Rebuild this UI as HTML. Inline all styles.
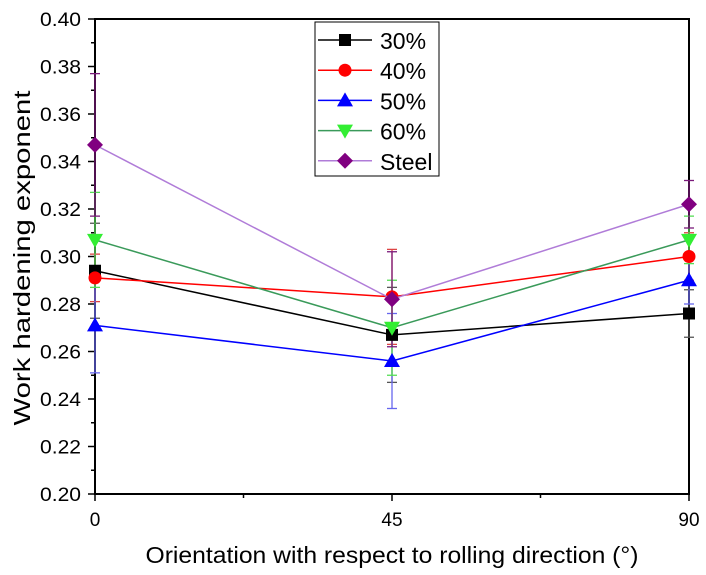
<!DOCTYPE html>
<html><head><meta charset="utf-8"><style>
body{margin:0;background:#fff}
svg{display:block;font-family:"Liberation Sans",Arial,sans-serif}
</style></head><body>
<svg id="s" width="706" height="575" viewBox="0 0 706 575" xmlns="http://www.w3.org/2000/svg">
<rect width="706" height="575" fill="#fff"/>
<g id="g"></g>
</svg>
<script>
const X=d=>95+d/90*594, Y=v=>19+(0.40-v)/0.2*475;
let h='';
h+=`<rect x="95" y="19" width="594" height="475" fill="none" stroke="#000" stroke-width="2"/>`;
for(let i=0;i<=20;i++){const v=0.20+i*0.01,y=Y(v);const maj=i%2==0;
h+=`<line x1="${maj?88:91}" x2="95" y1="${y}" y2="${y}" stroke="#000" stroke-width="1.5"/>`;
if(maj)h+=`<text x="81" y="${y+7}" font-size="19" text-anchor="end" textLength="41" lengthAdjust="spacingAndGlyphs">${v.toFixed(2)}</text>`;}
for(let i=0;i<=4;i++){const d=i*22.5,x=X(d);const maj=i%2==0;
h+=`<line x1="${x}" x2="${x}" y1="494" y2="${maj?501:498}" stroke="#000" stroke-width="1.5"/>`;
if(maj)h+=`<text x="${x}" y="526" font-size="19" text-anchor="middle">${d}</text>`;}
h+=`<text x="392" y="563" font-size="23" text-anchor="middle" textLength="493" lengthAdjust="spacingAndGlyphs">Orientation with respect to rolling direction (°)</text>`;
h+=`<text transform="translate(30,258) rotate(-90)" font-size="23" text-anchor="middle" textLength="335" lengthAdjust="spacingAndGlyphs">Work hardening exponent</text>`;
const S=[
{n:'30%',lc:'#000',mc:'#000',m:'sq',v:[.294,.267,.276],e:[.020,.020,.010]},
{n:'40%',lc:'#f00',mc:'#f00',m:'ci',v:[.291,.283,.300],e:[.010,.020,.010]},
{n:'50%',lc:'#00f',mc:'#00f',m:'up',v:[.271,.256,.290],e:[.020,.020,.010]},
{n:'60%',lc:'#3a9a5a',mc:'#33ee33',m:'dn',v:[.307,.270,.307],e:[.020,.020,.010]},
{n:'Steel',lc:'#b07cd8',mc:'#800080',m:'di',v:[.347,.282,.322],e:[.030,.020,.010]}];
const ec={'30%':'#555','40%':'#d44','50%':'#66e','60%':'#5d5','Steel':'#7a1a7a'};
function mk(t,x,y,c){
 if(t=='sq')return `<rect x="${x-6}" y="${y-6}" width="12" height="12" fill="${c}"/>`;
 if(t=='ci')return `<circle cx="${x}" cy="${y}" r="6.5" fill="${c}"/>`;
 if(t=='up')return `<polygon points="${x},${y-8} ${x+8},${y+6} ${x-8},${y+6}" fill="${c}"/>`;
 if(t=='dn')return `<polygon points="${x},${y+8} ${x+8},${y-6} ${x-8},${y-6}" fill="${c}"/>`;
 return `<polygon points="${x},${y-8} ${x+8},${y} ${x},${y+8} ${x-8},${y}" fill="${c}"/>`;}
const xs=[0,45,90];
S.forEach(s=>{xs.forEach((d,i)=>{const x=X(d),a=Y(s.v[i]+s.e[i]),b=Y(s.v[i]-s.e[i]);
 h+=`<line x1="${x}" x2="${x}" y1="${a}" y2="${b}" stroke="${ec[s.n]}" stroke-width="1.3"/>`;
 h+=`<line x1="${x-5}" x2="${x+5}" y1="${a}" y2="${a}" stroke="${ec[s.n]}" stroke-width="1.3"/>`;
 h+=`<line x1="${x-5}" x2="${x+5}" y1="${b}" y2="${b}" stroke="${ec[s.n]}" stroke-width="1.3"/>`;});});
S.forEach(s=>{h+=`<polyline points="${xs.map((d,i)=>X(d)+','+Y(s.v[i])).join(' ')}" fill="none" stroke="${s.lc}" stroke-width="1.5"/>`;
 xs.forEach((d,i)=>h+=mk(s.m,X(d),Y(s.v[i]),s.mc));});
h+=`<rect x="315" y="22" width="124" height="154" fill="#fff" stroke="#000" stroke-width="1"/>`;
S.forEach((s,i)=>{const y=40+i*30.2;
 h+=`<line x1="318" x2="372" y1="${y}" y2="${y}" stroke="${s.lc}" stroke-width="1.5"/>`+mk(s.m,345,y,s.mc);
 h+=`<text x="380" y="${y+9}" font-size="23">${s.n}</text>`;});
document.getElementById('g').innerHTML=h;
</script>
</body></html>
